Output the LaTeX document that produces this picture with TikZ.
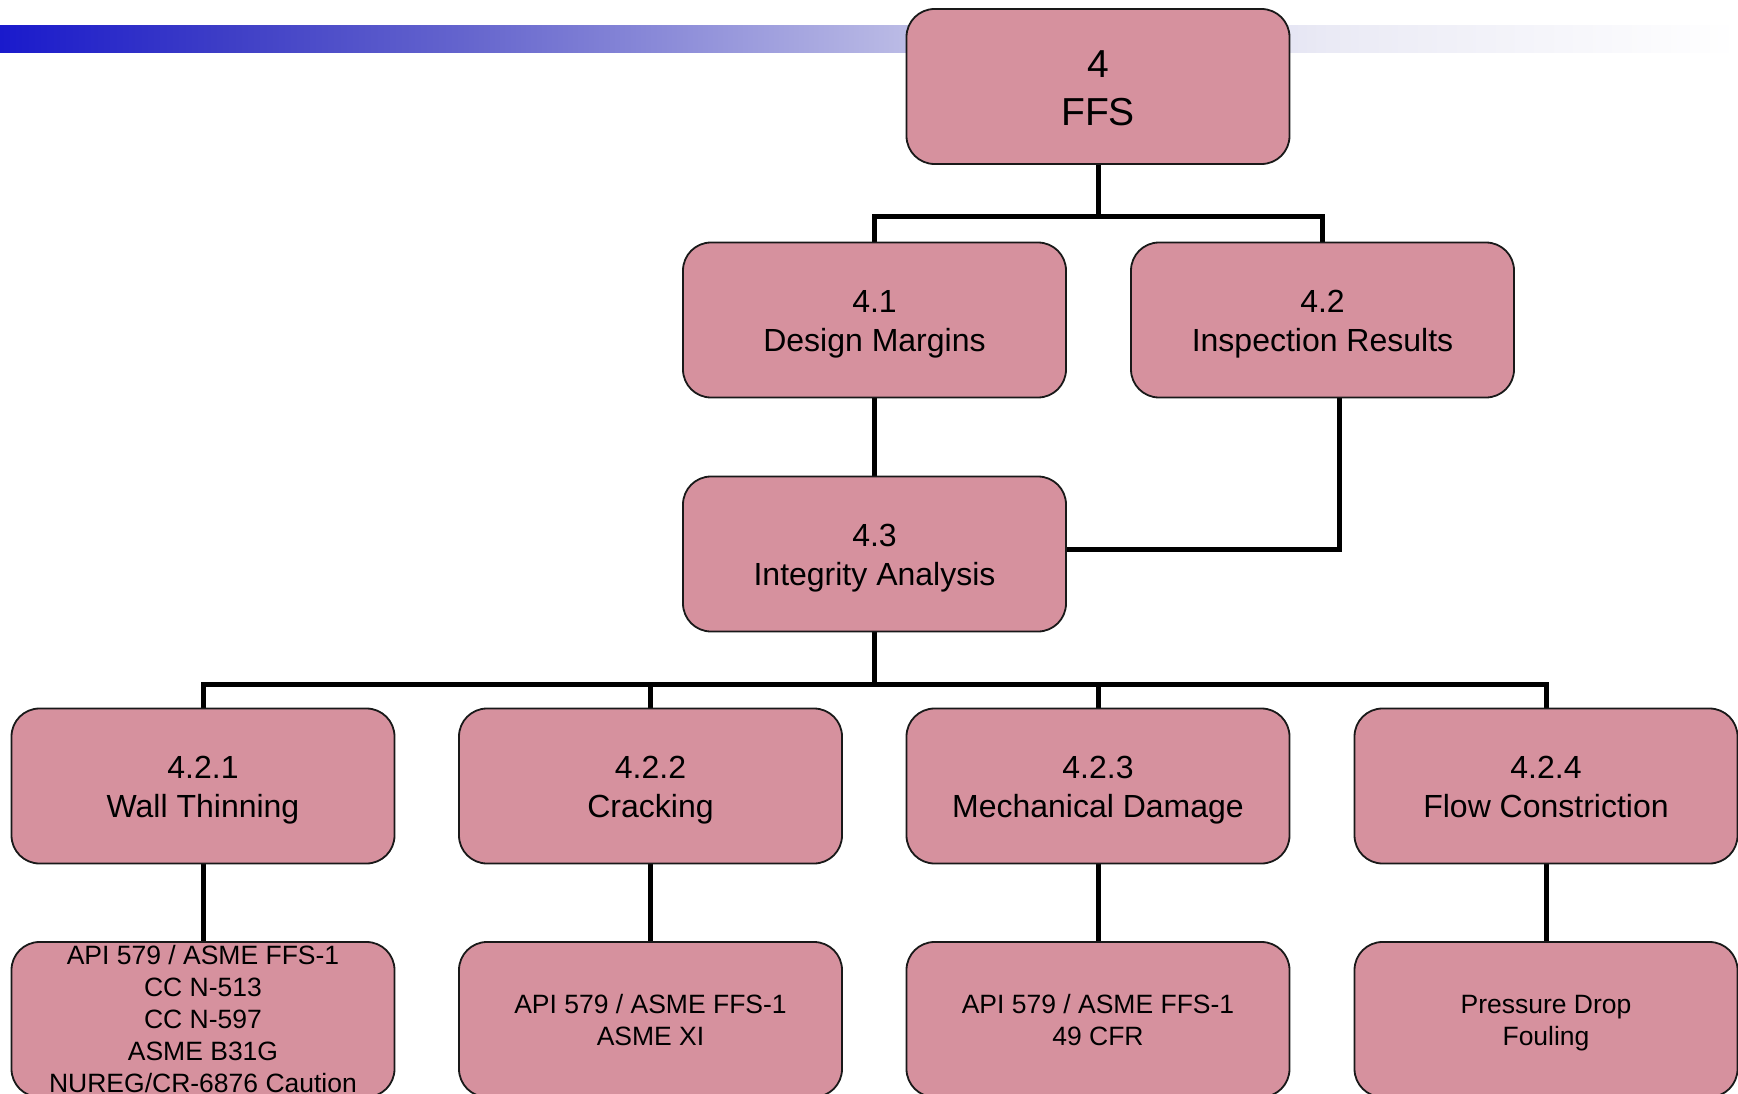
\documentclass[tikz,border=0pt]{standalone}
\usepackage{fontspec}
\setmainfont{Liberation Sans}
\usetikzlibrary{backgrounds}
\definecolor{boxfill}{RGB}{214,145,158}
\definecolor{gc0}{RGB}{26,26,204}
\definecolor{gc1}{RGB}{62,62,198}
\definecolor{gc2}{RGB}{100,100,205}
\definecolor{gc3}{RGB}{145,145,218}
\definecolor{gc4}{RGB}{190,190,230}
\definecolor{gc5}{RGB}{234,234,245}
\definecolor{gc6}{RGB}{255,255,255}
\pgfdeclarehorizontalshading{topbar}{100bp}{color(0bp)=(gc0); color(25bp)=(gc0); color(31.5bp)=(gc1); color(38.25bp)=(gc2); color(45bp)=(gc3); color(51.5bp)=(gc4); color(63.25bp)=(gc5); color(75bp)=(gc6); color(100bp)=(gc6)}
\newcommand\mystrut{\rule[-0.18\baselineskip]{0pt}{\baselineskip}}
\begin{document}
\begin{tikzpicture}[x=1pt,y=-1pt,
  box/.style={draw=black!90, line width=1.8pt, fill=boxfill, rounded corners=28pt,
    minimum width=383pt, minimum height=155pt, inner sep=0pt, align=center,
    font=\fontsize{32}{39}\selectfont},
  topbox/.style={box, font=\fontsize{39}{48}\selectfont},
  smallbox/.style={box, font=\fontsize{26.5}{32}\selectfont},
  conn/.style={draw=black, line width=5pt}]
\useasboundingbox (0,0) rectangle (1738,1094);
\shade[shading=topbar] (0,26) rectangle (1738,53);

\node[topbox] (n4) at (1098,86.5) {4\mystrut\\FFS\mystrut};
\node[box] (n41) at (874.5,320) {4.1\mystrut\\Design Margins\mystrut};
\node[box] (n42) at (1322.5,320) {4.2\mystrut\\Inspection Results\mystrut};
\node[box] (n43) at (874.5,554) {4.3\mystrut\\Integrity Analysis\mystrut};

\node[box] (n421) at (203,786) {4.2.1\mystrut\\Wall Thinning\mystrut};
\node[box] (n422) at (650.5,786) {4.2.2\mystrut\\Cracking\mystrut};
\node[box] (n423) at (1098,786) {4.2.3\mystrut\\Mechanical Damage\mystrut};
\node[box] (n424) at (1546,786) {4.2.4\mystrut\\Flow Constriction\mystrut};

\node[smallbox] (b1) at (203,1019.5) {API 579 / ASME FFS-1\\CC N-513\\CC N-597\\ASME B31G\\NUREG/CR-6876 Caution};
\node[smallbox] (b2) at (650.5,1019.5) {API 579 / ASME FFS-1\mystrut\\ASME XI\mystrut};
\node[smallbox] (b3) at (1098,1019.5) {API 579 / ASME FFS-1\mystrut\\49 CFR\mystrut};
\node[smallbox] (b4) at (1546,1019.5) {Pressure Drop\mystrut\\Fouling\mystrut};

\coordinate (j1) at (1098,217);
\coordinate (j2) at (876,684);

\begin{pgfonlayer}{background}
\draw[conn] (n4.south) -- (n4.south |- j1);
\draw[conn] (n41.north) |- (j1) -| (n42.north);
\draw[conn] (n41.south) -- (n43.north);
\draw[conn] ([xshift=17pt]n42.south) |- ([yshift=5pt]n43.east);
\draw[conn] (n43.south) -- (n43.south |- j2);
\draw[conn] (n421.north) |- (j2) -| (n424.north);
\draw[conn] (n422.north) -- (n422.north |- j2);
\draw[conn] (n423.north) -- (n423.north |- j2);
\draw[conn] (n421.south) -- (b1.north);
\draw[conn] (n422.south) -- (b2.north);
\draw[conn] (n423.south) -- (b3.north);
\draw[conn] (n424.south) -- (b4.north);
\end{pgfonlayer}
\end{tikzpicture}
\end{document}
